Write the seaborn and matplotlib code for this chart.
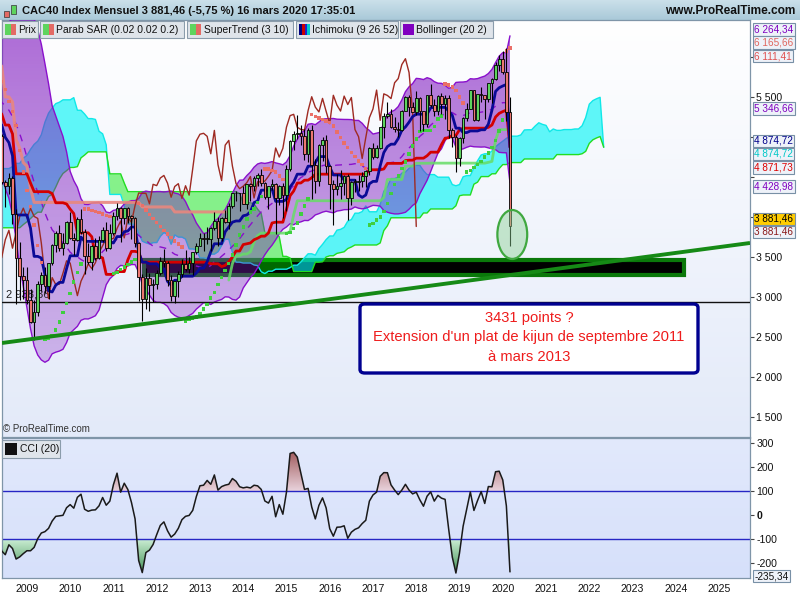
import numpy as np
import pandas as pd
import seaborn as sns
import matplotlib.pyplot as plt
from matplotlib.colors import LinearSegmentedColormap
from matplotlib.patches import Rectangle, Ellipse, FancyBboxPatch
from matplotlib.path import Path


# CAC40 monthly bars, Jan 2002 -> Mar 2020 (open = previous close)
start_year = 2002
first_open = 4624.6

close = [
    4426, 4462, 4688, 4446, 4320, 3898, 3555, 3480, 2777, 3151, 3301, 3063,   # 2002
    2939, 2877, 2618, 2910, 2942, 3084, 3256, 3297, 3134, 3350, 3389, 3558,   # 2003
    3638, 3731, 3625, 3675, 3648, 3733, 3640, 3594, 3641, 3706, 3793, 3821,   # 2004
    3913, 4027, 4067, 3908, 4120, 4229, 4451, 4344, 4600, 4400, 4653, 4715,   # 2005
    4947, 5132, 5220, 5211, 4930, 4966, 5009, 5207, 5250, 5400, 5331, 5542,   # 2006
    5609, 5416, 5634, 5925, 6105, 6055, 5752, 5662, 5716, 5848, 5671, 5614,   # 2007
    4870, 4790, 4707, 4997, 5014, 4434, 4392, 4482, 4032, 3488, 3262, 3218,   # 2008
    2962, 2693, 2808, 3159, 3277, 3140, 3426, 3653, 3795, 3608, 3680, 3936,   # 2009
    3737, 3708, 3974, 3817, 3508, 3443, 3643, 3491, 3715, 3833, 3610, 3805,   # 2010
    4006, 4110, 3989, 4107, 4007, 3982, 3672, 3256, 2981, 3242, 3155, 3160,   # 2011
    3298, 3452, 3424, 3213, 3017, 3197, 3292, 3414, 3355, 3429, 3557, 3641,   # 2012
    3733, 3723, 3731, 3857, 3949, 3739, 3993, 3934, 4143, 4300, 4295, 4296,   # 2013
    4165, 4408, 4392, 4487, 4519, 4423, 4247, 4381, 4416, 4233, 4390, 4273,   # 2014
    4605, 4951, 5034, 5046, 5008, 4790, 5082, 4653, 4455, 4898, 4957, 4637,   # 2015
    4417, 4354, 4385, 4429, 4506, 4237, 4440, 4438, 4448, 4509, 4579, 4862,   # 2016
    4749, 4858, 5123, 5267, 5283, 5121, 5094, 5086, 5330, 5503, 5373, 5313,   # 2017
    5482, 5320, 5167, 5521, 5398, 5324, 5511, 5406, 5493, 5093, 5003, 4731,   # 2018
    4993, 5241, 5351, 5586, 5208, 5539, 5519, 5480, 5678, 5730, 5905, 5978,   # 2019
    5806, 5309, 3881.46,                                                      # 2020
]

high = [
    4720, 4490, 4720, 4700, 4500, 4330, 4000, 3700, 3530, 3250, 3420, 3350,
    3220, 2990, 2960, 2960, 3000, 3160, 3280, 3320, 3380, 3370, 3430, 3570,
    3700, 3760, 3800, 3780, 3700, 3770, 3740, 3660, 3700, 3740, 3820, 3860,
    3920, 4080, 4090, 4130, 4140, 4270, 4460, 4480, 4620, 4650, 4680, 4770,
    4960, 5140, 5240, 5330, 5330, 4980, 5060, 5220, 5280, 5410, 5480, 5560,
    5650, 5720, 5650, 5930, 6110, 6168, 6120, 5770, 5770, 5890, 5860, 5730,
    5620, 5060, 4900, 5030, 5140, 5040, 4460, 4550, 4510, 4100, 3690, 3380,
    3380, 3100, 2960, 3200, 3310, 3370, 3430, 3660, 3830, 3900, 3800, 3950,
    4060, 3800, 4000, 4100, 3850, 3680, 3650, 3740, 3760, 3870, 3940, 3910,
    4060, 4170, 4120, 4110, 4130, 4030, 4000, 3690, 3290, 3360, 3300, 3230,
    3340, 3500, 3600, 3450, 3280, 3200, 3320, 3470, 3590, 3500, 3560, 3680,
    3800, 3800, 3880, 3870, 4060, 4000, 4000, 4090, 4180, 4300, 4330, 4300,
    4390, 4410, 4430, 4510, 4550, 4600, 4440, 4390, 4480, 4420, 4400, 4420,
    4650, 4960, 5080, 5280, 5150, 5100, 5110, 5150, 4730, 4910, 5000, 5020,
    4650, 4460, 4540, 4590, 4530, 4540, 4450, 4480, 4530, 4560, 4590, 4870,
    4930, 4900, 5130, 5300, 5440, 5350, 5250, 5190, 5340, 5510, 5520, 5440,
    5570, 5500, 5330, 5530, 5660, 5470, 5520, 5550, 5520, 5520, 5110, 5030,
    5000, 5250, 5420, 5590, 5590, 5540, 5620, 5530, 5680, 5740, 5940, 6030,
    6075, 6111.41, 5500,
]

low = [
    4330, 4230, 4430, 4380, 4220, 3800, 3250, 3200, 2770, 2610, 3080, 2990,
    2850, 2690, 2400, 2580, 2780, 2920, 2990, 3150, 3070, 3090, 3310, 3380,
    3550, 3600, 3500, 3620, 3510, 3640, 3580, 3460, 3580, 3560, 3700, 3770,
    3790, 3900, 3960, 3900, 3890, 4110, 4180, 4300, 4330, 4300, 4400, 4600,
    4700, 4930, 5060, 5100, 4750, 4560, 4780, 4990, 5080, 5220, 5250, 5300,
    5490, 5400, 5220, 5630, 5900, 5920, 5620, 5230, 5400, 5660, 5370, 5500,
    4500, 4640, 4430, 4640, 4940, 4410, 4130, 4290, 3910, 2910, 2960, 2980,
    2910, 2680, 2465, 2760, 3080, 3050, 2970, 3400, 3560, 3580, 3520, 3660,
    3730, 3530, 3700, 3790, 3290, 3410, 3340, 3460, 3480, 3690, 3580, 3600,
    3780, 3960, 3690, 3910, 3920, 3720, 3620, 2950, 2700, 2850, 2820, 2940,
    3100, 3270, 3380, 3140, 2950, 2920, 3000, 3250, 3330, 3300, 3270, 3540,
    3640, 3580, 3660, 3570, 3840, 3640, 3700, 3920, 3850, 4110, 4200, 4070,
    4160, 4100, 4200, 4330, 4390, 4390, 4220, 4100, 4340, 3790, 4150, 3990,
    4080, 4580, 4840, 4980, 4900, 4710, 4690, 4230, 4300, 4390, 4700, 4550,
    4100, 3900, 4280, 4230, 4280, 3960, 4150, 4310, 4320, 4380, 4380, 4520,
    4730, 4740, 4850, 4990, 5240, 5110, 5060, 5000, 5070, 5320, 5260, 5310,
    5280, 5080, 5080, 5130, 5370, 5260, 5270, 5290, 5230, 4990, 4880, 4560,
    4640, 4930, 5200, 5350, 5200, 5200, 5440, 5230, 5440, 5420, 5710, 5830,
    5790, 5200, 3632,
]

years = list(range(2009, 2026))
price_ticks = [1500, 2000, 2500, 3000, 3500, 4000, 4500, 5000, 5500, 6000]
hidden_ticks = [4000, 4500, 5000, 6000]      # covered by the value tags
cci_ticks = [-200, -100, 0, 100, 200, 300]
support_level = 2938.36

title = "CAC40 Index Mensuel 3 881,46 (-5,75 %) 16 mars 2020 17:35:01"
note_lines = ["3431 points ?",
              "Extension d'un plat de kijun de septembre 2011",
              "à mars 2013"]

# right-hand value tags: text, colour, value, face colour, shift in px (down +)
value_tags = [
    ("6 264,34", "#8000c0", 6264.34, "#eef2f9", -6),
    ("6 165,66", "#e0665e", 6165.66, "#eef2f9", -1),
    ("6 111,41", "#e05050", 6111.41, "#eef2f9", 8),
    ("5 346,66", "#8000c0", 5346.66, "#eef2f9", -1),
    ("4 874,72", "#00008b", 4874.72, "#eef2f9", -6),
    ("4 874,72", "#00c8c8", 4874.72, "#eef2f9", 7),
    ("4 871,73", "#dd0000", 4871.73, "#eef2f9", 20),
    ("4 428,98", "#8000c0", 4428.98, "#eef2f9", 4),
    ("3 881,46", "#000000", 3881.46, "#ffcc00", -7.5),
    ("3 881,46", "#8b1a1a", 3881.46, "#eef2f9", 5.5),
]
cci_tag = "-235,34"

# ---------------------------------------------------------------- indicators
df = pd.DataFrame({'high': high, 'low': low, 'close': close})
df['open'] = df['close'].shift(1).fillna(first_open)
n = len(df)
df['t'] = start_year + np.arange(n) / 12

bb_mid = df.close.rolling(20).mean().values
bb_sd = df.close.rolling(20).std(ddof=0).values
bb_up = bb_mid + 2 * bb_sd
bb_lo = bb_mid - 2 * bb_sd


def midrange(k):
    return ((df.high.rolling(k).max() + df.low.rolling(k).min()) / 2).values


tenkan = midrange(9)
kijun = midrange(26)
span_a = (tenkan + kijun) / 2
span_b = midrange(52)
t_cloud = df.t.values + 26 / 12
t_chikou = df.t.values - 26 / 12


def parabolic_sar(h, l, step=0.02, cap=0.2):
    sar = np.zeros(len(h))
    bull = np.zeros(len(h), bool)
    up, af, ep, s = True, step, h[0], l[0]
    sar[0], bull[0] = s, up
    for i in range(1, len(h)):
        s = s + af * (ep - s)
        if up:
            s = min(s, l[i - 1], l[max(i - 2, 0)])
            if l[i] < s:
                up, s, ep, af = False, ep, l[i], step
            elif h[i] > ep:
                ep, af = h[i], min(af + step, cap)
        else:
            s = max(s, h[i - 1], h[max(i - 2, 0)])
            if h[i] > s:
                up, s, ep, af = True, ep, h[i], step
            elif l[i] < ep:
                ep, af = l[i], min(af + step, cap)
        sar[i], bull[i] = s, up
    return sar, bull


def supertrend(h, l, c, period=10, mult=3):
    prev_c = np.r_[c[0], c[:-1]]
    tr = np.maximum.reduce([h - l, np.abs(h - prev_c), np.abs(l - prev_c)])
    atr = pd.Series(tr).ewm(alpha=1 / period, adjust=False).mean().values
    hl2 = (h + l) / 2
    bu, bl = hl2 + mult * atr, hl2 - mult * atr
    fu, fl = bu.copy(), bl.copy()
    up = np.ones(len(c), bool)
    for i in range(1, len(c)):
        fu[i] = bu[i] if (bu[i] < fu[i - 1] or c[i - 1] > fu[i - 1]) else fu[i - 1]
        fl[i] = bl[i] if (bl[i] > fl[i - 1] or c[i - 1] < fl[i - 1]) else fl[i - 1]
        up[i] = c[i] >= fl[i] if up[i - 1] else c[i] > fu[i]
    return np.where(up, fl, fu), up


H_, L_, C_ = df.high.values, df.low.values, df.close.values
sar, sar_bull = parabolic_sar(H_, L_)
st, st_up = supertrend(H_, L_, C_)

tp = (df.high + df.low + df.close) / 3
cci = ((tp - tp.rolling(20).mean()) / (
    0.015 * tp.rolling(20).apply(lambda w: np.abs(w - w.mean()).mean(), raw=True))).values

# ---------------------------------------------------------------- figure
W, H = 800, 600


def fx(px):
    return px / W


def fy(py):
    return 1 - py / H


sns.set_theme(style='white')
plt.rcParams['font.family'] = ['Liberation Sans', 'DejaVu Sans']

fig = plt.figure(figsize=(8, 6), dpi=100, facecolor='white')
XLIM = (2008.424, 2025.715)
YLIM = (1250, 6462)
CLIM = (-262, 321)


def vgrad(ax, c_top, c_bot, extent, transform=None, zorder=0, clip=None):
    cmap = LinearSegmentedColormap.from_list('g', [c_bot, c_top])
    im = ax.imshow(np.linspace(0, 1, 256)[:, None], cmap=cmap, origin='lower',
                   aspect='auto', extent=extent, zorder=zorder,
                   transform=transform if transform is not None else ax.transData,
                   interpolation='bilinear')
    if clip is not None:
        im.set_clip_path(clip, transform=ax.transData)
    return im


def region(ax, x, y1, y2, where=None):
    pc = ax.fill_between(x, y1, y2, where=where, interpolate=True,
                         facecolor='none', edgecolor='none')
    paths = pc.get_paths()
    pc.remove()
    return Path.make_compound_path(*paths) if paths else None


def tidy(a):
    a.set_xlabel('')
    a.set_ylabel('')
    for sp in a.spines.values():
        sp.set_color('#7f95a8')
        sp.set_linewidth(0.9)
        sp.set_visible(True)


# title bar
axt = fig.add_axes([0, fy(20), 1, 20 / H])
axt.set_axis_off()
vgrad(axt, '#cbe0ea', '#a9c9d8', (0, 1, 0, 1), transform=axt.transAxes)
axt.set_xlim(0, 1)
axt.set_ylim(0, 1)
fig.text(fx(22), fy(10.5), title, fontsize=8, weight='bold', va='center', color='#111111')
fig.text(fx(795), fy(10.5), "www.ProRealTime.com", fontsize=8.6, weight='bold',
         va='center', ha='right', color='#111111')
for x0, y0, y1, col in [(4, 11, 17, '#e36a64'), (11, 5, 14, '#5ed45e')]:
    fig.add_artist(Rectangle((fx(x0), fy(y1)), fx(5), (y1 - y0) / H, transform=fig.transFigure,
                             fc=col, ec='#333333', lw=0.5))

# ---------------------------------------------------------------- price panel
ax = fig.add_axes([fx(2), fy(437), fx(748), (437 - 20) / H])
vgrad(ax, '#ffffff', '#e3eaf9', (0, 1, 0, 1), transform=ax.transAxes, zorder=-20)

# kijun flat zone box
ax.add_patch(Rectangle((2011.70, 3275), 2024.19 - 2011.70, 3462 - 3275,
                       fc='black', ec='#0a780a', lw=3, zorder=1))

# Ichimoku cloud
ok = ~np.isnan(span_a) & ~np.isnan(span_b)
ax.fill_between(t_cloud, span_a, span_b, where=ok & (span_a >= span_b), interpolate=True,
                color='#00f5f5', alpha=0.62, lw=0, zorder=2)
ax.fill_between(t_cloud, span_a, span_b, where=ok & (span_a < span_b), interpolate=True,
                color='#00eb00', alpha=0.45, lw=0, zorder=2)
sns.lineplot(x=t_cloud, y=span_a, ax=ax, color='#10e8e8', lw=1, zorder=2.2, legend=False)
sns.lineplot(x=t_cloud, y=span_b, ax=ax, color='#22dd22', lw=1, zorder=2.2, legend=False)

# Bollinger
tt = df.t.values
bb_clip = region(ax, tt, bb_up, bb_lo, where=~np.isnan(bb_up))
vgrad(ax, (0.51, 0.12, 0.76, 0.66), (0.51, 0.12, 0.76, 0.2),
      (tt[0], tt[-1], YLIM[0], YLIM[1]), zorder=3, clip=bb_clip)
sns.lineplot(x=tt, y=bb_up, ax=ax, color='#8a10cc', lw=1, zorder=3.5, legend=False)
sns.lineplot(x=tt, y=bb_lo, ax=ax, color='#8a10cc', lw=1, zorder=3.5, legend=False)
ax.plot(tt, bb_mid, color='#8a10cc', lw=1, ls=(0, (5, 5)), zorder=3.5)

# support line
ax.axhline(support_level, color='#111111', lw=1, zorder=4)
ax.annotate("2 938,36", xy=(0, support_level), xycoords=('axes fraction', 'data'),
            xytext=(3, 1.5), textcoords='offset points', fontsize=8, color='#222222',
            va='bottom', zorder=4)

# SuperTrend
ax.plot(tt, np.where(st_up, st, np.nan), color='#66dd66', lw=2, alpha=0.85, zorder=4)
ax.plot(tt, np.where(~st_up, st, np.nan), color='#e9877f', lw=2.2, alpha=0.9, zorder=4)

# Ichimoku lines
sns.lineplot(x=t_chikou, y=C_, ax=ax, color='#9e2a22', lw=1, zorder=4.5, legend=False)
sns.lineplot(x=tt, y=kijun, ax=ax, color='#d40000', lw=2, zorder=5, legend=False)
sns.lineplot(x=tt, y=tenkan, ax=ax, color='#0a0a96', lw=2, zorder=5, legend=False)

# Parabolic SAR
sar_df = pd.DataFrame({'t': tt, 'sar': sar,
                       'side': np.where(sar_bull, 'bull', 'bear')})
sns.scatterplot(data=sar_df, x='t', y='sar', hue='side', ax=ax, marker='s', s=6,
                linewidth=0, palette={'bull': '#3fcf3f', 'bear': '#ea6f68'},
                legend=False, zorder=5.5)

# candles
vis = df[df.t > 2008.3]
rising = vis.close >= vis.open
ax.vlines(vis.t, vis.low, vis.high, color='black', lw=0.8, zorder=6)
ax.bar(vis.t, (vis.close - vis.open).abs().clip(lower=10),
       bottom=np.minimum(vis.open, vis.close), width=0.062,
       color=np.where(rising, '#5ed45e', '#ec7870'), edgecolor='black',
       linewidth=0.6, zorder=6.5)

# trend line and highlight
ax.plot([XLIM[0], XLIM[1]], [2425, 3675], color='#168a16', lw=2.8, zorder=7,
        solid_capstyle='butt')
ax.add_patch(Ellipse((2020.22, 3781), 0.69, 612, fc=(0.55, 0.82, 0.58, 0.45),
                     ec='#40a840', lw=1.6, zorder=7.5))

ax.set_xlim(*XLIM)
ax.set_ylim(*YLIM)
ax.yaxis.tick_right()
ax.set_yticks(price_ticks)
ax.set_yticklabels(['' if v in hidden_ticks else f"{v:,}".replace(',', ' ')
                    for v in price_ticks])
ax.set_xticks([])
ax.tick_params(axis='y', direction='out', length=3, width=0.8, color='#444444',
               labelsize=7.6, pad=1.5, labelcolor='#111111', right=True)
tidy(ax)

ax.text(0.002, 0.006, "© ProRealTime.com", transform=ax.transAxes, fontsize=7,
        color='#333333', va='bottom', ha='left', zorder=9)

for txt, col, val, fc, dy in value_tags:
    ax.annotate(txt, xy=(1, val), xycoords=('axes fraction', 'data'),
                xytext=(3, -dy * 0.72), textcoords='offset points', va='center',
                ha='left', fontsize=7.2, color=col, annotation_clip=False, zorder=10,
                bbox=dict(boxstyle='square,pad=0.14', fc=fc, ec='#7890a6', lw=0.8))

# ---------------------------------------------------------------- CCI panel
axc = fig.add_axes([fx(2), fy(578), fx(748), (578 - 438) / H])
vgrad(axc, '#e2e9fc', '#d6e0fa', (0, 1, 0, 1), transform=axc.transAxes, zorder=-20)
okc = ~np.isnan(cci)
hi_clip = region(axc, tt, cci, 100, where=okc & (cci > 100))
lo_clip = region(axc, tt, cci, -100, where=okc & (cci < -100))
vgrad(axc, '#873030', '#e9d3dc', (tt[0], tt[-1], 100, CLIM[1]), zorder=1, clip=hi_clip)
vgrad(axc, '#cbeed4', '#2f8444', (tt[0], tt[-1], CLIM[0], -100), zorder=1, clip=lo_clip)
axc.axhline(100, color='#2626c4', lw=1, zorder=2)
axc.axhline(-100, color='#2626c4', lw=1, zorder=2)
sns.lineplot(x=tt, y=cci, ax=axc, color='#1a1a1a', lw=1.1, zorder=3, legend=False)

axc.set_xlim(*XLIM)
axc.set_ylim(*CLIM)
axc.yaxis.tick_right()
axc.set_yticks(cci_ticks)
axc.set_yticklabels([str(v) for v in cci_ticks])
for lab in axc.get_yticklabels():
    if lab.get_text() == '0':
        lab.set_fontweight('bold')
axc.set_xticks(years)
axc.set_xticklabels([str(y) for y in years])
axc.tick_params(axis='y', direction='out', length=3, width=0.8, color='#444444',
                labelsize=7.6, pad=1.5, labelcolor='#111111', right=True)
axc.tick_params(axis='x', length=0, labelsize=7.6, pad=4, labelcolor='#111111')
tidy(axc)
axc.annotate(cci_tag, xy=(1, cci[-1]), xycoords=('axes fraction', 'data'),
             xytext=(3, -3), textcoords='offset points', va='center', ha='left',
             fontsize=7.2, color='#111111', annotation_clip=False, zorder=10,
             bbox=dict(boxstyle='square,pad=0.14', fc='#eef2f9', ec='#7890a6', lw=0.8))


# ---------------------------------------------------------------- legend chips
def chip(x0, x1, y0, y1, label, icon):
    fig.add_artist(Rectangle((fx(x0), fy(y1)), fx(x1 - x0), (y1 - y0) / H,
                             transform=fig.transFigure, fc='#dfe4ea', ec='#8b9cab', lw=0.8))
    ix, iy = x0 + 3, y0 + 3
    size = y1 - y0 - 6
    w = size / len(icon)
    for k, col in enumerate(icon):
        fig.add_artist(Rectangle((fx(ix + k * w), fy(iy + size)), fx(w), size / H,
                                 transform=fig.transFigure, fc=col, ec='none'))
    fig.text(fx(ix + size + 2.5), fy((y0 + y1) / 2 + 0.5), label, fontsize=7.5,
             va='center', ha='left', color='#111111')


two = ['#5ed45e', '#e36a64']
chip(2, 38, 21, 38, "Prix", two)
chip(40, 184, 21, 38, "Parab SAR (0.02 0.02 0.2)", two)
chip(187, 293, 21, 38, "SuperTrend (3 10)", two)
chip(296, 398, 21, 38, "Ichimoku (9 26 52)", ['#000080', '#cc0000', '#2222cc', '#00cccc'])
chip(400, 493, 21, 38, "Bollinger (20 2)", ['#8000c0'])
chip(2, 60, 440, 458, "CCI (20)", ['#111111'])

# ---------------------------------------------------------------- note box
fig.add_artist(FancyBboxPatch((fx(360), fy(373)), fx(338), (373 - 304) / H,
                              boxstyle='round,pad=0,rounding_size=0.006',
                              transform=fig.transFigure, fc='white', ec='#000090', lw=2.4))
for k, line in enumerate(note_lines):
    fig.text(fx(529), fy(318 + 19.5 * k), line, ha='center', va='center',
             fontsize=10.6, color='#ee1c1c')

fig.savefig('out.png', dpi=100)
